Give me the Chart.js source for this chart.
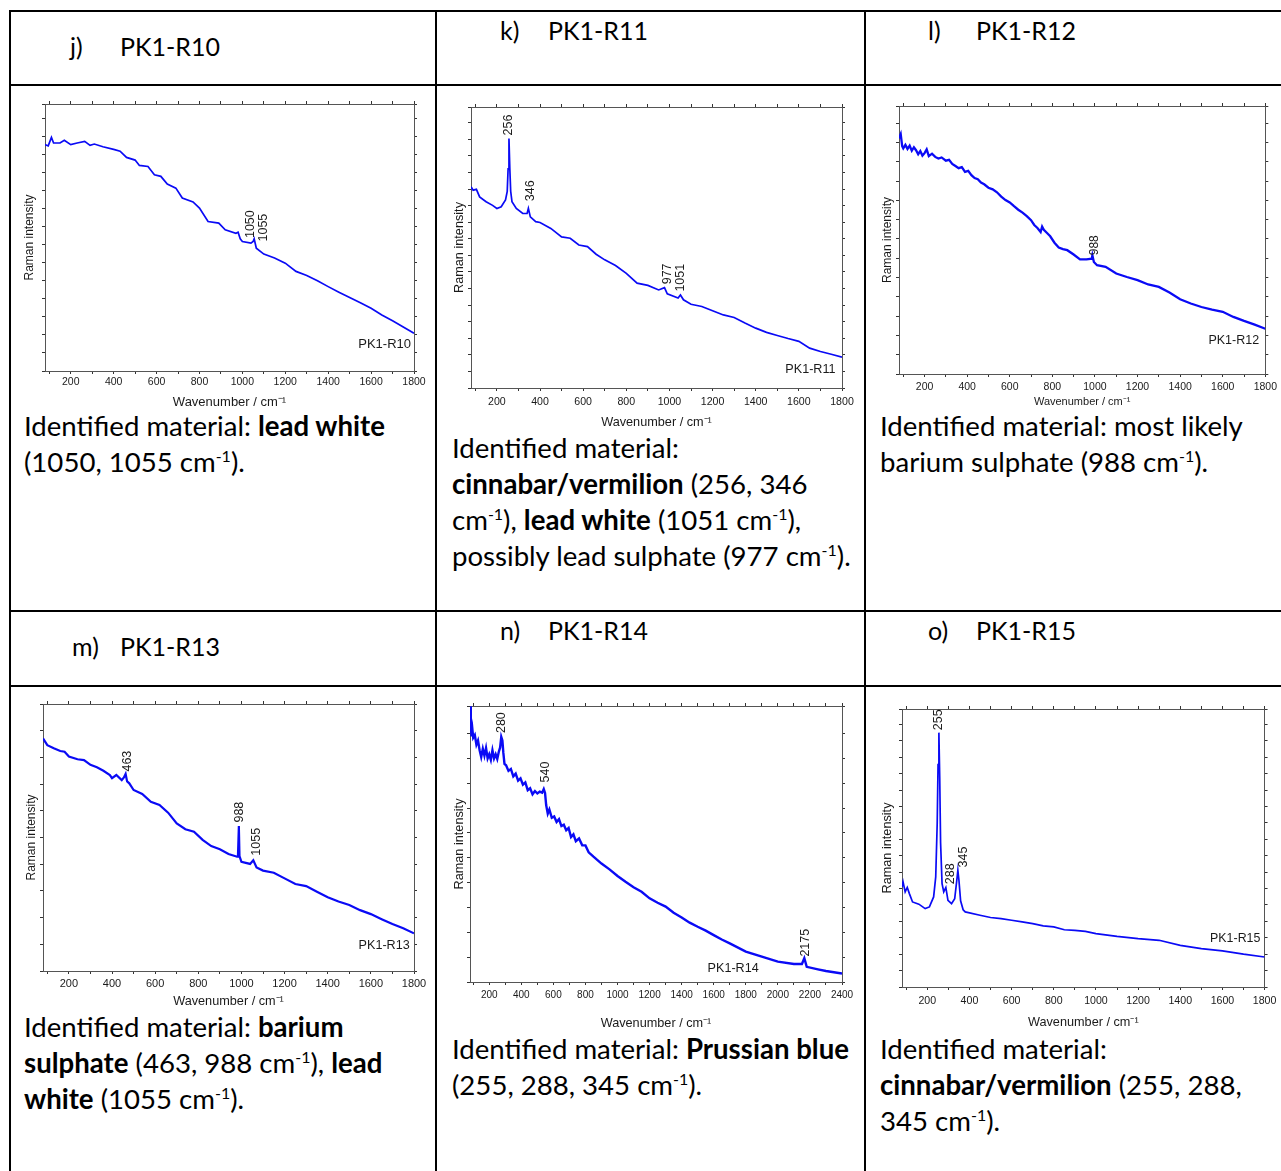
<!DOCTYPE html>
<html>
<head>
<meta charset="utf-8">
<script src="https://cdn.jsdelivr.net/npm/chart.js@4.4.1/dist/chart.umd.min.js"></script>
<style>
  html, body { margin: 0; padding: 0; background: #fff; }
  body { width: 1281px; height: 1171px; position: relative; overflow: hidden;
         font-family: Lato, "Open Sans", sans-serif; color: #000; }
  .hl { position: absolute; background: #000; height: 2px; }
  .vl { position: absolute; background: #000; width: 2px; }
  .cap { position: absolute; font-size: 25px; line-height: 30px; white-space: nowrap; }
  .txt { position: absolute; font-size: 27.6px; line-height: 36px; white-space: nowrap; }
  .txt b { font-weight: 700; }
  sup { font-size: 0.58em; line-height: 0; vertical-align: 0.6em; }
  .plot { position: absolute; }
</style>
</head>
<body>
<!-- table grid -->
<div class="hl" style="left:9px;top:10px;width:1272px"></div>
<div class="hl" style="left:9px;top:84px;width:1272px"></div>
<div class="hl" style="left:9px;top:610px;width:1272px"></div>
<div class="hl" style="left:9px;top:685px;width:1272px"></div>
<div class="vl" style="left:9px;top:10px;height:1161px"></div>
<div class="vl" style="left:435px;top:10px;height:1161px"></div>
<div class="vl" style="left:864px;top:10px;height:1161px"></div>

<!-- header cells -->
<div class="cap" style="left:70px;top:31px">j)</div>
<div class="cap" style="left:120px;top:31px">PK1-R10</div>
<div class="cap" style="left:500px;top:15px">k)</div>
<div class="cap" style="left:548px;top:15px">PK1-R11</div>
<div class="cap" style="left:928px;top:15px">l)</div>
<div class="cap" style="left:976px;top:15px">PK1-R12</div>
<div class="cap" style="left:72px;top:631px">m)</div>
<div class="cap" style="left:120px;top:631px">PK1-R13</div>
<div class="cap" style="left:500px;top:615px">n)</div>
<div class="cap" style="left:548px;top:615px">PK1-R14</div>
<div class="cap" style="left:928px;top:615px">o)</div>
<div class="cap" style="left:976px;top:615px">PK1-R15</div>

<!-- descriptions -->
<div class="txt" style="left:24px;top:408px">Identified material: <b>lead white</b><br>(1050, 1055 cm<sup>-1</sup>).</div>
<div class="txt" style="left:452px;top:430px">Identified material:<br><b>cinnabar/vermilion</b> (256, 346<br>cm<sup>-1</sup>), <b>lead white</b> (1051 cm<sup>-1</sup>),<br>possibly lead sulphate (977 cm<sup>-1</sup>).</div>
<div class="txt" style="left:880px;top:408px">Identified material: most likely<br>barium sulphate (988 cm<sup>-1</sup>).</div>
<div class="txt" style="left:24px;top:1009px">Identified material: <b>barium</b><br><b>sulphate</b> (463, 988 cm<sup>-1</sup>), <b>lead</b><br><b>white</b> (1055 cm<sup>-1</sup>).</div>
<div class="txt" style="left:452px;top:1031px">Identified material: <b>Prussian blue</b><br>(255, 288, 345 cm<sup>-1</sup>).</div>
<div class="txt" style="left:880px;top:1031px">Identified material:<br><b>cinnabar/vermilion</b> (255, 288,<br>345 cm<sup>-1</sup>).</div>

<script>
// x ticks (every 100, labelled every 200)
const xTicks1800 = [100, 200, 300, 400, 500, 600, 700, 800, 900, 1000, 1100, 1200, 1300, 1400, 1500, 1600, 1700, 1800];
const xTicks2400 = [100, 200, 300, 400, 500, 600, 700, 800, 900, 1000, 1100, 1200, 1300, 1400, 1500, 1600, 1700, 1800, 1900, 2000, 2100, 2200, 2300, 2400];

// PK1-R10
const wnJ = [80, 95, 110, 120, 150, 170, 200, 230, 265, 290, 310, 350, 400, 430, 460, 500, 520, 560, 590, 620, 650, 690, 720, 770, 800, 840, 890, 920, 970, 980, 990, 1000, 1040, 1050, 1055, 1065, 1100, 1150, 1200, 1250, 1300, 1350, 1400, 1450, 1500, 1550, 1600, 1650, 1700, 1750, 1800];
const intJ = [84.8, 84.3, 87.5, 85.4, 85.4, 86.4, 84.8, 85.4, 86.0, 84.5, 85.0, 84.0, 83.0, 82.3, 80.0, 79.0, 77.0, 76.6, 73.5, 72.9, 70.0, 68.5, 64.8, 63.3, 61.0, 56.0, 55.4, 52.9, 51.6, 52.0, 49.5, 48.5, 47.9, 48.5, 49.5, 46.0, 43.8, 42.3, 40.4, 37.3, 35.8, 33.8, 31.6, 29.5, 27.5, 25.6, 23.5, 21.0, 18.8, 16.5, 14.1];

// PK1-R11
const wnK = [80, 90, 105, 120, 150, 180, 200, 220, 240, 248, 252, 256, 260, 264, 270, 290, 320, 340, 346, 355, 380, 400, 450, 500, 540, 580, 620, 660, 700, 750, 800, 850, 900, 950, 977, 990, 1040, 1051, 1065, 1100, 1150, 1200, 1250, 1300, 1350, 1400, 1450, 1500, 1550, 1600, 1650, 1700, 1750, 1800];
const intK = [71.6, 70.4, 70.7, 68.0, 66.3, 65.0, 63.9, 64.5, 66.9, 70.0, 78.0, 88.8, 78.0, 70.0, 66.3, 63.9, 62.1, 62.1, 63.9, 60.9, 59.2, 58.9, 56.8, 53.8, 53.3, 50.9, 50.3, 47.6, 45.6, 43.6, 40.8, 37.3, 36.5, 34.9, 35.7, 33.5, 32.0, 33.1, 31.4, 29.8, 29.0, 27.5, 26.0, 25.1, 23.1, 21.3, 19.8, 18.7, 17.6, 16.6, 14.2, 13.0, 12.0, 11.0];

// PK1-R12
const wnL = [80, 88, 95, 100, 110, 120, 130, 140, 150, 160, 170, 180, 190, 200, 210, 220, 235, 250, 265, 280, 300, 315, 330, 345, 360, 375, 390, 405, 420, 435, 450, 465, 480, 500, 520, 540, 560, 580, 600, 620, 640, 660, 680, 700, 715, 730, 745, 752, 760, 775, 790, 810, 830, 850, 870, 900, 930, 960, 985, 988, 995, 1010, 1050, 1100, 1150, 1200, 1250, 1300, 1350, 1400, 1450, 1500, 1550, 1600, 1650, 1700, 1750, 1800];
const intL = [87.9, 89.5, 85.0, 84.2, 85.5, 84.0, 85.2, 83.3, 84.6, 83.5, 82.0, 83.2, 81.5, 82.4, 83.8, 81.3, 82.2, 81.0, 80.4, 80.8, 79.6, 79.9, 78.4, 77.6, 76.8, 77.2, 75.4, 75.8, 74.2, 73.1, 72.7, 71.4, 70.8, 69.5, 68.9, 67.8, 66.2, 64.9, 64.0, 62.6, 61.3, 60.2, 58.9, 57.4, 55.6, 54.5, 53.0, 55.0, 53.8, 52.6, 51.4, 49.0, 47.2, 46.6, 46.2, 44.6, 42.8, 42.8, 43.0, 44.3, 41.8, 40.6, 40.0, 37.5, 36.2, 35.0, 33.4, 32.5, 30.4, 27.9, 26.3, 25.0, 24.0, 23.2, 21.3, 19.8, 18.4, 16.9];

// PK1-R13
const wnM = [80, 100, 130, 160, 180, 200, 240, 270, 300, 330, 360, 390, 400, 420, 445, 455, 463, 470, 480, 500, 540, 580, 620, 660, 700, 740, 780, 820, 860, 900, 940, 980, 984, 988, 991, 1000, 1040, 1055, 1070, 1100, 1150, 1200, 1250, 1300, 1350, 1400, 1450, 1500, 1550, 1600, 1650, 1700, 1750, 1800];
const intM = [87.1, 84.6, 83.4, 82.4, 82.1, 80.3, 79.3, 79.0, 77.2, 76.3, 75.0, 73.4, 72.2, 73.4, 71.5, 72.5, 73.8, 71.0, 70.3, 67.8, 66.3, 63.4, 62.2, 59.3, 55.3, 53.1, 52.2, 49.1, 46.8, 45.6, 43.8, 42.8, 43.5, 54.3, 43.0, 40.9, 40.1, 41.5, 38.8, 37.6, 36.8, 34.7, 32.6, 31.8, 29.7, 27.6, 26.0, 24.7, 22.8, 21.3, 19.4, 17.6, 16.0, 14.1];

// PK1-R14
const wnN = [80, 85, 90, 95, 100, 110, 120, 130, 140, 150, 160, 170, 180, 190, 200, 210, 220, 230, 240, 250, 260, 268, 275, 282, 288, 295, 305, 320, 335, 350, 365, 380, 395, 410, 425, 440, 455, 470, 485, 500, 515, 530, 540, 548, 555, 565, 575, 590, 605, 620, 635, 650, 665, 680, 695, 710, 725, 740, 760, 780, 800, 820, 850, 900, 950, 1000, 1050, 1100, 1150, 1200, 1250, 1300, 1350, 1400, 1450, 1500, 1550, 1600, 1650, 1700, 1800, 1900, 2000, 2100, 2150, 2165, 2180, 2250, 2300, 2400];
const intN = [99.9, 92.5, 89.0, 91.5, 88.5, 89.5, 86.0, 87.5, 84.0, 81.5, 84.5, 82.0, 84.8, 81.0, 82.5, 80.5, 84.0, 81.0, 82.5, 80.8, 83.5, 85.0, 88.8, 87.5, 83.0, 79.0, 78.5, 76.5, 77.2, 74.5, 75.5, 73.0, 73.8, 71.5, 72.3, 69.5, 70.2, 68.0, 69.2, 68.3, 69.0, 68.6, 69.9, 68.5, 64.1, 61.0, 62.5, 59.5, 60.0, 58.0, 59.0, 56.5, 57.0, 55.0, 55.8, 52.5, 53.5, 51.0, 52.0, 49.5, 49.5, 47.0, 45.4, 42.9, 40.8, 38.4, 36.3, 34.3, 32.7, 30.3, 28.7, 27.3, 25.1, 23.4, 21.5, 20.0, 18.6, 17.0, 15.4, 14.0, 11.0, 9.2, 7.4, 6.5, 6.5, 8.6, 5.5, 4.6, 4.0, 3.1];

// PK1-R15
const wnO = [80, 85, 95, 105, 115, 130, 160, 190, 210, 230, 240, 247, 251, 255, 259, 263, 270, 278, 288, 298, 315, 330, 340, 345, 350, 358, 370, 380, 450, 500, 550, 600, 650, 700, 750, 800, 850, 900, 950, 1000, 1100, 1200, 1300, 1400, 1500, 1600, 1700, 1800];
const intO = [36.0, 37.8, 34.2, 35.8, 33.6, 30.6, 29.8, 28.2, 28.8, 32.4, 39.6, 58.8, 80.0, 91.5, 75.0, 52.0, 37.2, 34.2, 35.8, 31.2, 30.0, 31.8, 38.4, 42.0, 38.5, 31.0, 27.8, 27.0, 25.8, 25.0, 24.6, 24.0, 23.4, 22.8, 22.0, 21.6, 20.6, 20.4, 20.0, 19.2, 18.2, 17.4, 16.8, 15.0, 13.8, 13.0, 11.8, 10.8];

const BLUE = "#0a0af5";
const INK = "#1a1a1a";
const ARIAL = "'Liberation Sans', Arial, sans-serif";

// draws rotated peak labels and the sample name inside the plot
const peakLabels = {
  id: "peakLabels",
  afterDatasetsDraw(chart, args, opts) {
    const { ctx, scales } = chart;
    ctx.save();
    ctx.fillStyle = INK;
    ctx.font = opts.size + "px " + ARIAL;
    opts.peaks.forEach((p) => {
      const px = scales.x.getPixelForValue(p.x);
      const py = scales.y.getPixelForValue(p.y);
      ctx.save();
      ctx.translate(px, py);
      ctx.rotate(-Math.PI / 2);
      ctx.textAlign = "left";
      ctx.textBaseline = "middle";
      ctx.fillText(p.text, 0, 0);
      ctx.restore();
    });
    const s = opts.sample;
    ctx.textAlign = s.align;
    ctx.textBaseline = "middle";
    ctx.font = opts.sampleSize + "px " + ARIAL;
    ctx.fillText(s.text, scales.x.getPixelForValue(s.x), scales.y.getPixelForValue(s.y));
    ctx.restore();
  },
};

function makeSpectrum(p) {
  const [cl, ct, cr, cb] = p.canvas;
  const [pl, pt, pr, pb] = p.plot;
  const box = document.createElement("div");
  box.className = "plot";
  box.style.left = cl + "px";
  box.style.top = ct + "px";
  const canvas = document.createElement("canvas");
  canvas.width = cr - cl;
  canvas.height = cb - ct;
  box.appendChild(canvas);
  document.body.appendChild(box);

  const grid = { drawOnChartArea: false, tickLength: 3, color: "#333", lineWidth: 1 };
  const border = { display: true, color: "#555", width: 1 };
  const setTicks = (axis) => {
    axis.ticks = p.xTicks.map((v) => ({ value: v }));
  };

  return new Chart(canvas, {
    type: "line",
    data: {
      datasets: [
        {
          data: p.wn.map((x, i) => ({ x, y: p.inten[i] })),
          borderColor: BLUE,
          borderWidth: p.lineWidth,
          pointRadius: 0,
          tension: 0,
        },
      ],
    },
    options: {
      responsive: false,
      animation: false,
      layout: { padding: 0 },
      plugins: {
        legend: { display: false },
        tooltip: { enabled: false },
        peakLabels: { peaks: p.peaks, sample: p.sample, size: p.labelSize, sampleSize: p.sampleSize },
      },
      scales: {
        x: {
          type: "linear",
          position: "bottom",
          min: 80,
          max: p.xMax,
          afterBuildTicks: setTicks,
          afterFit: (s) => { s.height = cb - pb; },
          grid,
          border,
          ticks: {
            autoSkip: false,
            maxRotation: 0,
            color: INK,
            padding: p.tickY - pb - 3 - 0.6 * p.tickSize,
            font: { family: ARIAL, size: p.tickSize },
            callback: (v) => (v % 200 === 0 ? String(v) : ""),
          },
          title: {
            display: true,
            text: "Wavenumber / cm⁻¹",
            color: INK,
            font: { family: ARIAL, size: p.xTitleSize },
            padding: { top: 0, bottom: cb - p.xTitleY - 0.6 * p.xTitleSize },
          },
        },
        x2: {
          type: "linear",
          position: "top",
          min: 80,
          max: p.xMax,
          afterBuildTicks: setTicks,
          afterFit: (s) => { s.height = pt - ct; },
          grid,
          border,
          ticks: { display: false },
        },
        y: {
          position: "left",
          min: 0,
          max: 100,
          afterFit: (s) => { s.width = pl - cl; },
          grid,
          border,
          ticks: { display: false, stepSize: p.yStep },
          title: {
            display: true,
            text: "Raman intensity",
            color: INK,
            font: { family: ARIAL, size: p.yTitleSize },
            padding: { top: p.yTitleX - cl - 0.6 * p.yTitleSize, bottom: 0 },
          },
        },
        y2: {
          position: "right",
          min: 0,
          max: 100,
          afterFit: (s) => { s.width = cr - pr; },
          grid,
          border,
          ticks: { display: false, stepSize: p.yStep },
        },
      },
    },
    plugins: [peakLabels],
  });
}

makeSpectrum({
  canvas: [12, 90, 434, 418], plot: [45, 104, 414, 371],
  xMax: 1800, xTicks: xTicks1800, wn: wnJ, inten: intJ, lineWidth: 1.7, yStep: 6.75,
  tickSize: 10.5, tickY: 382.5, xTitleSize: 13, xTitleY: 402, yTitleSize: 12, yTitleX: 30,
  labelSize: 12.5, sampleSize: 13,
  peaks: [{ text: "1050", x: 1038, y: 49.8 }, { text: "1055", x: 1097, y: 48.5 }],
  sample: { text: "PK1-R10", x: 1786, y: 10, align: "right" },
});

makeSpectrum({
  canvas: [438, 90, 863, 440], plot: [471, 107, 842, 388],
  xMax: 1800, xTicks: xTicks1800, wn: wnK, inten: intK, lineWidth: 1.7, yStep: 5.9,
  tickSize: 10.6, tickY: 401.7, xTitleSize: 12.7, xTitleY: 422, yTitleSize: 12.7, yTitleX: 459,
  labelSize: 12.5, sampleSize: 12.6,
  peaks: [
    { text: "256", x: 253, y: 89.9 },
    { text: "346", x: 356, y: 66.5 },
    { text: "977", x: 991, y: 36.9 },
    { text: "1051", x: 1051, y: 34.3 },
  ],
  sample: { text: "PK1-R11", x: 1770, y: 6.5, align: "right" },
});

makeSpectrum({
  canvas: [867, 90, 1281, 418], plot: [899, 106, 1270, 374],
  xMax: 1800, xTicks: xTicks1800, wn: wnL, inten: intL, lineWidth: 2.3, yStep: 7.2,
  tickSize: 10.5, tickY: 387.3, xTitleSize: 11, xTitleY: 401.7, yTitleSize: 12, yTitleX: 887.7,
  labelSize: 12, sampleSize: 12.5,
  peaks: [{ text: "988", x: 998, y: 44.3 }],
  sample: { text: "PK1-R12", x: 1771, y: 12.6, align: "right" },
});

makeSpectrum({
  canvas: [12, 690, 434, 1018], plot: [43, 704, 414, 971],
  xMax: 1800, xTicks: xTicks1800, wn: wnM, inten: intM, lineWidth: 2.2, yStep: 10,
  tickSize: 11, tickY: 984.3, xTitleSize: 12.7, xTitleY: 1001.7, yTitleSize: 12, yTitleX: 31.7,
  labelSize: 12.5, sampleSize: 12.6,
  peaks: [
    { text: "463", x: 474, y: 74.7 },
    { text: "988", x: 992, y: 55.6 },
    { text: "1055", x: 1072, y: 43.2 },
  ],
  sample: { text: "PK1-R13", x: 1780, y: 9.4, align: "right" },
});

makeSpectrum({
  canvas: [438, 690, 863, 1040], plot: [470, 706, 842, 982],
  xMax: 2400, xTicks: xTicks2400, wn: wnN, inten: intN, lineWidth: 2.4, yStep: 9,
  tickSize: 10, tickY: 995, xTitleSize: 12.7, xTitleY: 1023.3, yTitleSize: 12.7, yTitleX: 459,
  labelSize: 12.5, sampleSize: 12.6,
  peaks: [
    { text: "280", x: 277, y: 90.2 },
    { text: "540", x: 554, y: 72.3 },
    { text: "2175", x: 2173, y: 9.2 },
  ],
  sample: { text: "PK1-R14", x: 1721, y: 4.9, align: "center" },
});

makeSpectrum({
  canvas: [867, 690, 1281, 1040], plot: [902, 709, 1269, 987],
  xMax: 1800, xTicks: xTicks1800, wn: wnO, inten: intO, lineWidth: 1.7, yStep: 5.9,
  tickSize: 10.6, tickY: 1001, xTitleSize: 12.7, xTitleY: 1022.3, yTitleSize: 12.7, yTitleX: 887.7,
  labelSize: 12.5, sampleSize: 12.4,
  peaks: [
    { text: "255", x: 255, y: 92.4 },
    { text: "288", x: 311, y: 37 },
    { text: "345", x: 372, y: 43 },
  ],
  sample: { text: "PK1-R15", x: 1780, y: 17.4, align: "right" },
});
</script>
</body>
</html>
